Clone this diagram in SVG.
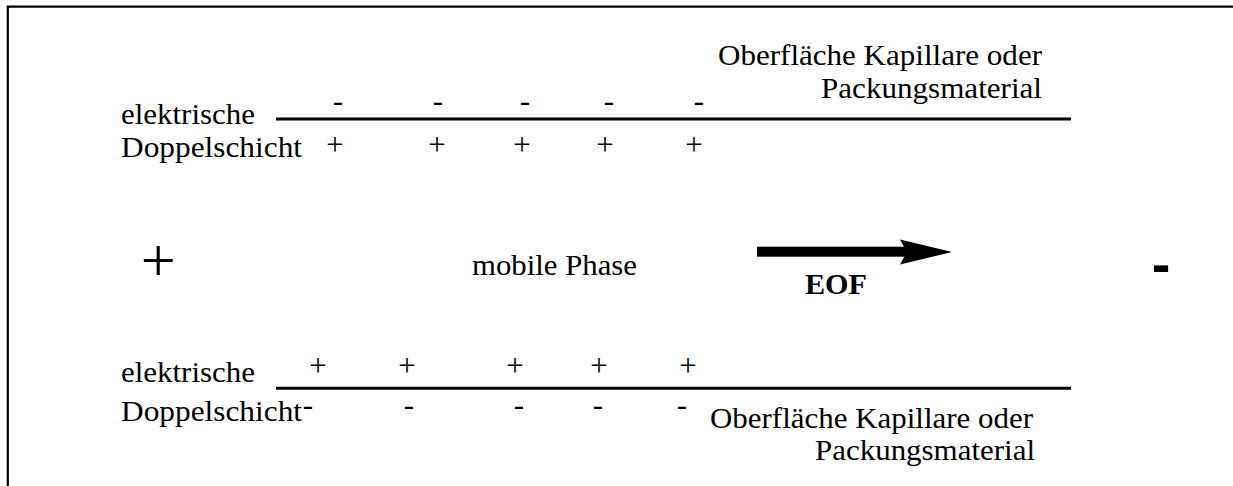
<svg xmlns="http://www.w3.org/2000/svg" width="1233" height="486" viewBox="0 0 1233 486">
<style>
.t{font-family:"Liberation Serif","Times New Roman",serif;font-size:29px;fill:#000}
.c{font-family:"Liberation Serif","Times New Roman",serif;font-size:31px;fill:#000;text-anchor:middle}
.ln{stroke:#000;stroke-width:3;fill:none}
.bd{stroke:#000;stroke-width:2.2;fill:none}
</style>
<rect width="1233" height="486" fill="#fff"/>
<g id="frame">
<path class="bd" d="M7.8 486 V6.7 H1233"/>
</g>
<g id="top-wall">
<line class="ln" x1="276" y1="119" x2="1071" y2="119"/>
<text class="t" x="121" y="124" textLength="134" lengthAdjust="spacingAndGlyphs">elektrische</text>
<text class="t" x="121" y="157" textLength="181" lengthAdjust="spacingAndGlyphs">Doppelschicht</text>
<text class="t" x="718" y="65" textLength="324" lengthAdjust="spacingAndGlyphs">Oberfläche Kapillare oder</text>
<text class="t" x="821" y="97.5" textLength="221" lengthAdjust="spacingAndGlyphs">Packungsmaterial</text>
<text class="c" x="338" y="111">-</text>
<text class="c" x="438" y="111">-</text>
<text class="c" x="525" y="111">-</text>
<text class="c" x="609" y="111">-</text>
<text class="c" x="699" y="111">-</text>
<text class="c" x="335" y="155">+</text>
<text class="c" x="437" y="155">+</text>
<text class="c" x="522" y="155">+</text>
<text class="c" x="605" y="155">+</text>
<text class="c" x="694" y="155">+</text>
</g>
<g id="middle">
<text id="anode" x="158.3" y="281" style="font-family:'Liberation Serif',serif;font-size:62px;text-anchor:middle">+</text>
<text class="t" x="472" y="275" textLength="165" lengthAdjust="spacingAndGlyphs">mobile Phase</text>
<text id="cathode" x="1161" y="283" style="font-family:'Liberation Sans',Arial,sans-serif;font-size:56px;font-weight:bold;text-anchor:middle">-</text>
</g>
<g id="connectors">
<rect x="757" y="246.7" width="150" height="10" fill="#000"/>
<polygon points="900,239.5 952,252 900,264.5 907,252" fill="#000"/>
<text class="t" x="805" y="294" textLength="62" lengthAdjust="spacingAndGlyphs" font-weight="bold">EOF</text>
</g>
<g id="bottom-wall">
<line class="ln" x1="276" y1="388.3" x2="1071" y2="388.3"/>
<text class="t" x="121" y="382" textLength="134" lengthAdjust="spacingAndGlyphs">elektrische</text>
<text class="t" x="121" y="420.5" textLength="181" lengthAdjust="spacingAndGlyphs">Doppelschicht</text>
<text class="t" x="710" y="428" textLength="323" lengthAdjust="spacingAndGlyphs">Oberfläche Kapillare oder</text>
<text class="t" x="815" y="460" textLength="220" lengthAdjust="spacingAndGlyphs">Packungsmaterial</text>
<text class="c" x="318" y="376">+</text>
<text class="c" x="407" y="376">+</text>
<text class="c" x="515" y="376">+</text>
<text class="c" x="599" y="376">+</text>
<text class="c" x="688" y="376">+</text>
<text class="c" x="308" y="415">-</text>
<text class="c" x="409" y="415">-</text>
<text class="c" x="519" y="415">-</text>
<text class="c" x="598" y="415">-</text>
<text class="c" x="682" y="415">-</text>
</g>
</svg>
